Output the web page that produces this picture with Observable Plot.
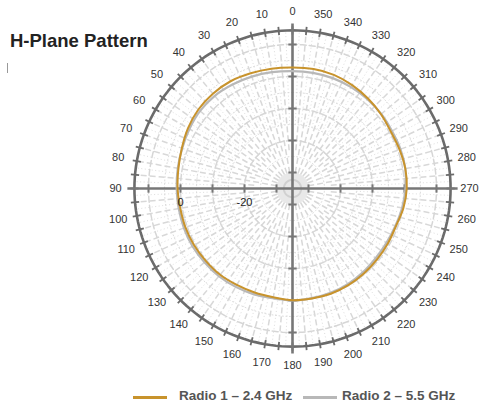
<!DOCTYPE html>
<html><head><meta charset="utf-8">
<script src="https://cdn.jsdelivr.net/npm/d3@7"></script>
<script src="https://cdn.jsdelivr.net/npm/@observablehq/plot@0.6"></script>
<style>
body{margin:0;background:#fff;font-family:"Liberation Sans",Arial,sans-serif;}
#wrap{position:relative;width:480px;height:408px;overflow:hidden;background:#fff}
#wrap svg{position:absolute;left:0;top:0}
.title{position:absolute;left:10px;top:32px;font-size:18.5px;line-height:1;font-weight:bold;color:#222;white-space:nowrap}
.mark{position:absolute;left:7px;top:63px;width:1px;height:10px;background:#999}
.sw{position:absolute;height:3px;top:396px;width:34px}
.lt{position:absolute;top:389px;font-size:13.5px;line-height:1;font-weight:bold;color:#555;white-space:nowrap}
</style></head>
<body>
<div id="wrap">
  <div class="title">H-Plane Pattern</div>
  <div class="mark"></div>
  <div class="sw" style="left:133px;background:#c8932c"></div>
  <div class="lt" style="left:179px">Radio 1 – 2.4 GHz</div>
  <div class="sw" style="left:303px;background:#b8b8b8"></div>
  <div class="lt" style="left:342px">Radio 2 – 5.5 GHz</div>
</div>
<script>
// ---- data ----
const angles = [0,10,20,30,40,50,60,70,80,90,100,110,120,130,140,150,160,170,180,190,200,210,220,230,240,250,260,270,280,290,300,310,320,330,340,350];
const radio1 = [2.8,3.0,3.3,3.7,3.7,3.4,2.7,1.8,1.2,0.9,0.6,0.6,0.5,0.3,0.2,-0.2,-0.4,-0.5,-0.1,-0.1,0.0,-0.1,-0.3,-0.5,-0.6,-0.6,0.2,0.7,0.8,0.6,0.5,1.1,1.7,2.3,2.8,2.9];
const radio2 = [1.7,1.9,2.2,2.5,2.8,2.7,2.2,1.7,1.4,1.2,1.1,1.1,1.1,0.9,0.8,0.5,0.2,-0.2,0.0,-0.2,-0.3,-0.5,-0.8,-1.1,-1.1,-0.8,-0.2,0.3,0.8,0.9,0.9,1.2,1.4,1.6,1.7,1.7];
const angleLabels = ["0","10","20","30","40","50","60","70","80","90","100","110","120","130","140","150","160","170","180","190","200","210","220","230","240","250","260","270","280","290","300","310","320","330","340","350"];
const dbTicks = [-30,-20,-10,0,10];
const dbLabelValues = [0,-20];
const dbLabels = ["0","-20"];
const seriesNames = ["Radio 1 – 2.4 GHz","Radio 2 – 5.5 GHz"];

// ---- geometry (scale units = dB above the centre value) ----
const DB_CENTER = -35;
const R_OUTER = 49.4;   // outer ring
const R_AXIS = 51.6;    // axis line extent
const R_LABEL = 55.3;   // angle label radius
const rad = d => d * Math.PI / 180;
const px = (a, r) => -r * Math.sin(rad(a));
const py = (a, r) => r * Math.cos(rad(a));
const toR = db => db - DB_CENTER;

function ring(r) {
  return d3.range(0, 361, 2).map(a => ({x: px(a, r), y: py(a, r)}));
}
const seriesPts = (vals) => angles.map((a, i) => ({x: px(a, toR(vals[i])), y: py(a, toR(vals[i]))}));

const spokeDash = d3.range(5, 360, 5).filter(a => a % 90 !== 0)
  .map(a => ({x1: px(a, a % 10 === 0 ? 5 : 12), y1: py(a, a % 10 === 0 ? 5 : 12), x2: px(a, R_OUTER), y2: py(a, R_OUTER)}));
const spokeDot = d3.range(2.5, 360, 5)
  .map(a => ({x1: px(a, 20), y1: py(a, 20), x2: px(a, R_OUTER), y2: py(a, R_OUTER)}));
const ringTicks = d3.range(0, 360, 5)
  .map(a => ({x1: px(a, R_OUTER - 1.3), y1: py(a, R_OUTER - 1.3), x2: px(a, R_OUTER + 1.3), y2: py(a, R_OUTER + 1.3)}));
const axisTicks = [];
for (const a of [0, 90, 180, 270]) for (const db of dbTicks) {
  const r = toR(db), h = 1.3;
  const cx = px(a, r), cy = py(a, r);
  const ox = Math.cos(rad(a)) * h, oy = Math.sin(rad(a)) * h;
  axisTicks.push({x1: cx - ox, y1: cy - oy, x2: cx + ox, y2: cy + oy});
}
const axes = [
  {x1: -R_AXIS, y1: 0, x2: R_AXIS, y2: 0},
  {x1: 0, y1: -R_AXIS, x2: 0, y2: R_AXIS}
];
const labelPts = angles.map((a, i) => ({x: px(a, R_LABEL), y: py(a, R_LABEL), t: angleLabels[i]}));
const dbLabelPts = dbLabelValues.map((v, i) => ({x: -toR(v), y: 0, t: dbLabels[i]}));

const K = 3.2; // px per unit
const chart = Plot.plot({
  width: 480, height: 408, margin: 0,
  x: {domain: [-292 / K, (480 - 292) / K], axis: null},
  y: {domain: [-(408 - 188) / K, 188 / K], axis: null},
  style: {fontFamily: "'Liberation Sans', Arial, sans-serif", background: "transparent"},
  marks: [
    Plot.line(ring(5), {x: "x", y: "y", fill: "#e8e8e8", stroke: "none"}),
    Plot.link(spokeDot, {x1: "x1", y1: "y1", x2: "x2", y2: "y2", stroke: "#dedede", strokeWidth: 1, strokeDasharray: "1,2.5"}),
    Plot.link(spokeDash, {x1: "x1", y1: "y1", x2: "x2", y2: "y2", stroke: "#d8d8d8", strokeWidth: 1.5, strokeDasharray: "6,3"}),
    ...[10, 20, 30, 40].map(r => Plot.line(ring(r), {x: "x", y: "y", stroke: "#dcdcdc", strokeWidth: 1, strokeDasharray: "1,2.5"})),
    ...[15, 25, 35, 45].map(r => Plot.line(ring(r), {x: "x", y: "y", stroke: "#d6d6d6", strokeWidth: 1.5, strokeDasharray: "6,3"})),
    Plot.line(ring(2.7), {x: "x", y: "y", stroke: "#d0d0d0", strokeWidth: 2}),
    Plot.line(ring(R_OUTER), {x: "x", y: "y", stroke: "#6b6b6b", strokeWidth: 2.6}),
    Plot.link(ringTicks, {x1: "x1", y1: "y1", x2: "x2", y2: "y2", stroke: "#6b6b6b", strokeWidth: 1.8}),
    Plot.link(axes, {x1: "x1", y1: "y1", x2: "x2", y2: "y2", stroke: "#777", strokeWidth: 2.6}),
    Plot.link(axisTicks, {x1: "x1", y1: "y1", x2: "x2", y2: "y2", stroke: "#777", strokeWidth: 2}),
    Plot.line(seriesPts(radio2), {x: "x", y: "y", stroke: "#b8b8b8", strokeWidth: 2.2, curve: "catmull-rom-closed", title: () => seriesNames[1]}),
    Plot.line(seriesPts(radio1), {x: "x", y: "y", stroke: "#c8932c", strokeWidth: 2, curve: "catmull-rom-closed", title: () => seriesNames[0]}),
    Plot.text(labelPts, {x: "x", y: "y", text: "t", fontSize: 11, fill: "#333"}),
    Plot.text(dbLabelPts, {x: "x", y: "y", text: "t", dy: 14, fontSize: 11, fill: "#222"})
  ]
});
document.getElementById("wrap").prepend(chart);
</script>
</body></html>
